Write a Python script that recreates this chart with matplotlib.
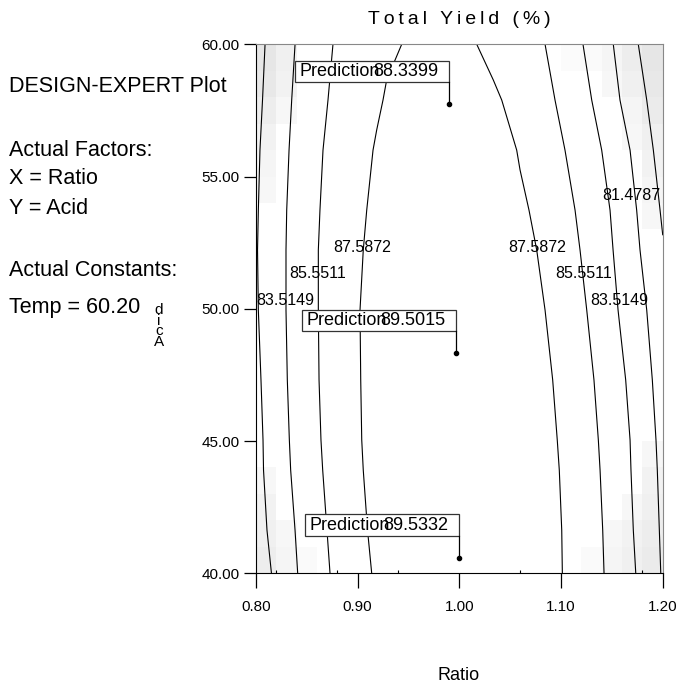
import matplotlib
matplotlib.use('Agg')
import matplotlib.pyplot as plt
import matplotlib.transforms as mtransforms
from matplotlib.patches import Rectangle

plt.rcParams['font.family'] = ['Liberation Sans', 'DejaVu Sans']

# contour lines (Ratio on x, Acid on y)
y_common = [60.0, 57.89, 56.00, 53.73, 52.22, 49.95, 47.31, 45.04, 43.90, 41.63, 40.00]
x_81_left = [0.8089, 0.8064, 0.8039, 0.8023, 0.8015, 0.8023, 0.8049, 0.8069, 0.8074, 0.8108, 0.8152]
x_83_left = [0.8384, 0.8351, 0.8325, 0.8302, 0.8295, 0.8295, 0.8308, 0.8328, 0.8341, 0.8384, 0.8410]
x_85_left = [0.8757, 0.8708, 0.8659, 0.8629, 0.8613, 0.8613, 0.8620, 0.8639, 0.8656, 0.8698, 0.8728]
x_85_right = [1.0843, 1.0941, 1.1039, 1.1138, 1.1187, 1.1253, 1.1324, 1.1367, 1.1384, 1.1410, 1.1423]
x_83_right = [1.1216, 1.1302, 1.1400, 1.1482, 1.1512, 1.1561, 1.1636, 1.1679, 1.1688, 1.1711, 1.1735]
x_81_right = [1.1514, 1.1580, 1.1679, 1.1744, 1.1777, 1.1843, 1.1898, 1.1934, 1.1947, 1.1967, 1.1981]

y_87 = [60.0, 58.65, 57.89, 56.76, 56.00, 53.73, 52.22, 49.95, 47.31, 45.04, 43.90, 41.63, 40.00]
x_87_left = [0.9433, 0.9285, 0.9249, 0.9187, 0.9151, 0.9089, 0.9055, 0.9023, 0.9030, 0.9040, 0.9055, 0.9097, 0.9138]
y_87r = [60.0, 58.65, 57.89, 56.00, 55.25, 53.73, 52.22, 49.95, 47.31, 45.04, 43.90, 41.63, 40.00]
x_87_right = [1.0171, 1.0334, 1.0417, 1.0564, 1.0597, 1.0685, 1.0761, 1.0843, 1.0918, 1.0963, 1.0983, 1.1007, 1.1013]

y_79 = [60.0, 57.89, 56.00, 53.73, 52.80]
x_79_right = [1.1760, 1.1843, 1.1908, 1.1974, 1.2000]

# contour labels
label_text = ['81.4787', '87.5872', '85.5511', '83.5149', '87.5872', '85.5511', '83.5149']
label_x = [1.1688, 0.9046, 0.8603, 0.8288, 1.0761, 1.1223, 1.1570]
label_y = [54.30, 52.33, 51.34, 50.33, 52.33, 51.34, 50.33]

# prediction points
pred_x = [0.990, 0.997, 1.000]
pred_y = [57.74, 48.32, 40.59]
pred_val = ['88.3399', '89.5015', '89.5332']

# faint background shading cells (col, row from top, gray level), 20 x 20 grid
shade_cells = [
    (0, 0, 0.90), (0, 1, 0.91), (0, 2, 0.93), (0, 3, 0.95), (0, 4, 0.96), (0, 5, 0.97),
    (1, 0, 0.94), (1, 1, 0.95), (1, 2, 0.97),
    (0, 16, 0.97), (0, 17, 0.95), (0, 18, 0.94), (0, 19, 0.93),
    (1, 18, 0.97), (1, 19, 0.96), (2, 19, 0.98),
    (19, 0, 0.90), (19, 1, 0.91), (19, 2, 0.92), (19, 3, 0.94), (19, 4, 0.95), (19, 5, 0.96), (19, 6, 0.97),
    (18, 0, 0.93), (18, 1, 0.94), (18, 2, 0.96), (18, 3, 0.97),
    (17, 0, 0.96), (17, 1, 0.97), (16, 0, 0.98), (15, 0, 0.985),
    (19, 15, 0.97), (19, 16, 0.95), (19, 17, 0.94), (19, 18, 0.93), (19, 19, 0.92),
    (18, 17, 0.97), (18, 18, 0.95), (18, 19, 0.94),
    (17, 18, 0.97), (17, 19, 0.96), (16, 19, 0.98),
]

x_ticks = [0.80, 0.90, 1.00, 1.10, 1.20]
x_minor = [0.82, 0.88, 0.94, 1.06, 1.18]
y_ticks = [40, 45, 50, 55, 60]

fig = plt.figure(figsize=(6.79, 6.88), dpi=100)
ax = fig.add_axes([256 / 679, 1 - 573.3 / 688, (662.7 - 256) / 679, (573.3 - 44.3) / 688])
ax.set_xlim(0.80, 1.20)
ax.set_ylim(40, 60)

cw = 0.4 / 20
ch = 20 / 20
for c, r, g in shade_cells:
    ax.add_patch(Rectangle((0.80 + c * cw, 60 - (r + 1) * ch), cw, ch,
                           facecolor=str(g), edgecolor='none', zorder=0))

lines = [
    (x_81_left, y_common), (x_83_left, y_common), (x_85_left, y_common),
    (x_87_left, y_87), (x_87_right, y_87r), (x_85_right, y_common),
    (x_83_right, y_common), (x_81_right, y_common), (x_79_right, y_79),
]
for xs, ys in lines:
    ax.plot(xs, ys, color='black', lw=0.8, zorder=2)

for t, x, y in zip(label_text, label_x, label_y):
    ax.text(x, y, t, fontsize=11.5, ha='center', va='center', zorder=3)

# prediction flags
for x, y, v in zip(pred_x, pred_y, pred_val):
    tr = fig.dpi_scale_trans + mtransforms.ScaledTranslation(x, y, ax.transData)
    ax.add_patch(Rectangle((-1.54, 0.22), 1.54, 0.215, transform=tr, facecolor='white',
                           edgecolor='#333333', lw=0.9, zorder=4))
    ax.plot([0, 0], [0, 0.22], transform=tr, color='black', lw=0.9, zorder=4)
    ax.plot([0], [0], 'o', transform=tr, color='black', ms=3, zorder=5)
    ax.text(-1.50, 0.325, 'Prediction', transform=tr, fontsize=13, ha='left', va='center', zorder=6)
    ax.text(-0.11, 0.325, v, transform=tr, fontsize=13, ha='right', va='center', zorder=6)

ax.set_xticks(x_ticks)
ax.set_xticklabels(['%.2f' % v for v in x_ticks])
ax.set_xticks(x_minor, minor=True)
ax.set_yticks(y_ticks)
ax.set_yticklabels(['%.2f' % v for v in y_ticks])
ax.tick_params(axis='x', direction='out', length=11, width=0.9, pad=8, labelsize=11)
ax.tick_params(axis='x', which='minor', direction='in', length=2, width=0.8)
ax.tick_params(axis='y', direction='out', length=9, width=0.9, pad=3, labelsize=11)
for s in ['top', 'right']:
    ax.spines[s].set_color('#888888')
for s in ['left', 'bottom']:
    ax.spines[s].set_color('black')

fig.text(459 / 679, 1 - 20 / 688, '\u2009'.join('Total Yield (%)'), fontsize=14,
         ha='center', va='center')
fig.text(459 / 679, 1 - 676 / 688, 'Ratio', fontsize=13, ha='center', va='center')

# stacked y label
fig.text(159 / 679, 1 - 326 / 688, 'd\ni\nc\nA', fontsize=11, ha='center', va='center',
         multialignment='center', linespacing=0.7)

left_lines = [('DESIGN-EXPERT Plot', 87), ('Actual Factors:', 150), ('X = Ratio', 178),
              ('Y = Acid', 208), ('Actual Constants:', 270), ('Temp = 60.20', 308)]
for t, py in left_lines:
    fig.text(9 / 679, 1 - py / 688, t, fontsize=15.5, ha='left', va='center')

fig.savefig('out.png', dpi=100)
